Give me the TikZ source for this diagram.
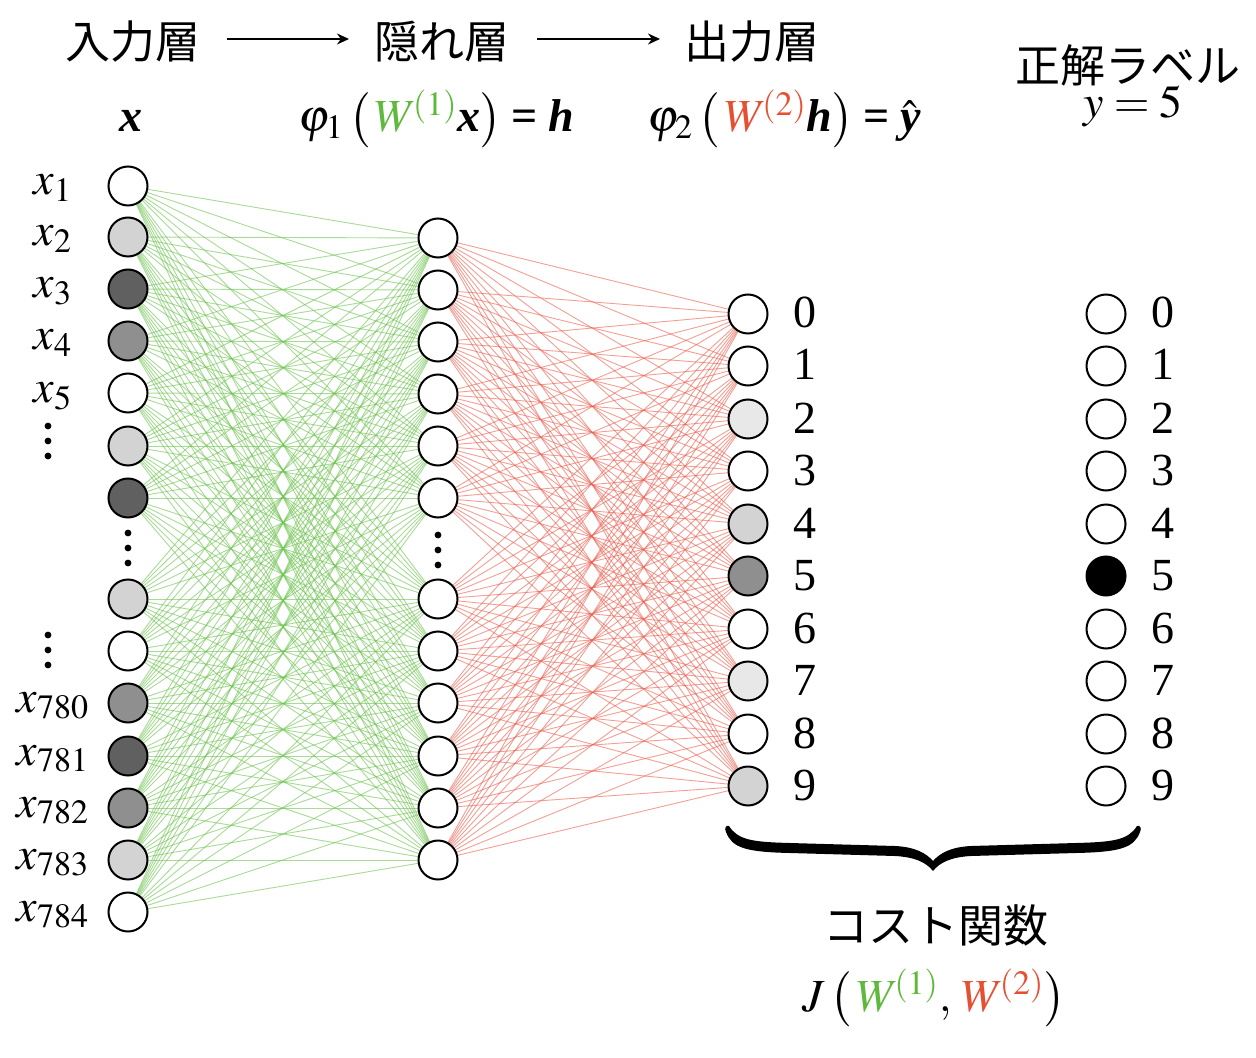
\documentclass[tikz,border=0pt]{standalone}
\usepackage{amsmath}
\usepackage{mathptmx}
\usepackage{fontspec}
\setmainfont{Liberation Serif}
\newfontfamily\jp{Noto Sans CJK JP}
\usetikzlibrary{arrows.meta}
\definecolor{wgreen}{RGB}{95,185,60}
\definecolor{wred}{RGB}{230,80,50}
\definecolor{egreen}{RGB}{110,195,80}
\definecolor{ered}{RGB}{235,95,80}
\definecolor{vl}{RGB}{232,232,232}
\definecolor{lg}{RGB}{211,211,211}
\definecolor{mg}{RGB}{143,143,143}
\definecolor{dg}{RGB}{96,96,96}
\newcommand{\bxv}{\mbox{\bfseries\itshape x}}
\newcommand{\bhv}{\mbox{\bfseries\itshape h}}
\newcommand{\byv}{\mbox{\bfseries\itshape y}}
\newcommand{\beq}{\mathrel{\mbox{\bfseries =}}}
\pgfdeclarelayer{bg}
\pgfsetlayers{bg,main}
\begin{document}
\begin{tikzpicture}[x=0.5pt,y=-0.5pt,
  neuron/.style={circle, draw, line width=1pt, minimum size=19.5pt, inner sep=0pt},
  gedge/.style={draw=egreen, line width=0.45pt, opacity=0.6},
  redge/.style={draw=ered, line width=0.45pt, opacity=0.6},
  lbl/.style={font=\fontsize{23}{27}\selectfont, inner sep=0pt},
  jlbl/.style={font=\fontsize{22.5}{27}\selectfont\jp, inner sep=0pt},
  dotn/.style={circle, fill=black, inner sep=0pt, minimum size=3.4pt},
  toparrow/.style={line width=0.85pt, -{Stealth[length=6pt, width=5.5pt]}}
]
\useasboundingbox (0,0) rectangle (1256,1058);

% input layer
\foreach \i/\y/\c in {1/186/white, 2/237/lg, 3/289/dg, 4/341/mg, 5/393/white, 6/446/lg, 7/498/dg, 8/599/lg, 9/651/white, 10/703/mg, 11/756/dg, 12/808/mg, 13/860/lg, 14/912/white}
  \node[neuron, fill=\c] (i\i) at (128,\y) {};
% hidden layer
\foreach \i/\y in {1/238, 2/290, 3/342, 4/394, 5/446, 6/498, 7/599, 8/651, 9/703, 10/756, 11/808, 12/860}
  \node[neuron, fill=white] (h\i) at (438,\y) {};
% output layer
\foreach \i/\y/\c in {0/314/white, 1/366/white, 2/419/vl, 3/471/white, 4/524/lg, 5/576/mg, 6/629/white, 7/681/vl, 8/734/white, 9/786/lg}{
  \node[neuron, fill=\c] (o\i) at (748,\y) {};
  \node[lbl, anchor=base] (od\i) at (805,\y+14) {\i};
}
% label layer
\foreach \i/\y/\c in {0/314/white, 1/366/white, 2/419/white, 3/471/white, 4/524/white, 5/576/black, 6/629/white, 7/681/white, 8/734/white, 9/786/white}{
  \node[neuron, fill=\c] (t\i) at (1106,\y) {};
  \node[lbl, anchor=base] (td\i) at (1163,\y+14) {\i};
}

% edges
\begin{pgfonlayer}{bg}
\fill[white] (0,0) rectangle (1256,1058);
\foreach \a in {1,...,14}
  \foreach \b in {1,...,12}
    \draw[gedge] (i\a) -- (h\b);
\foreach \a in {1,...,12}
  \foreach \b in {0,...,9}
    \draw[redge] (h\a) -- (o\b);
\end{pgfonlayer}

% vertical dots
\foreach \n/\x/\y in {ia/128/548, ha/438/550, la/48/441, lb/48/650}{
  \node[dotn] (\n1) at (\x,\y-15) {};
  \node[dotn] (\n2) at (\x,\y) {};
  \node[dotn] (\n3) at (\x,\y+15) {};
}

% input labels
\foreach \i/\y/\s in {1/186/1, 2/237/2, 3/289/3, 4/341/4, 5/393/5, 10/703/780, 11/756/781, 12/808/782, 13/860/783, 14/912/784}
  \node[lbl, anchor=base] (xl\i) at (53,\y+9) {$x_{\s}$};

% top row
\node[jlbl] (tin) at (133,42) {入力層};
\node[jlbl] (thid) at (442,42) {隠れ層};
\node[jlbl] (tout) at (752,42) {出力層};
\node[jlbl] (tlab) at (1128,65) {正解ラベル};
\coordinate (a1s) at (227,39);
\coordinate (a1e) at (349,39);
\coordinate (a2s) at (537,39);
\coordinate (a2e) at (660,39);
\draw[toparrow] (a1s) -- (a1e);
\draw[toparrow] (a2s) -- (a2e);

% formulas
\node[lbl, anchor=base] (fx) at (131,132) {$\bxv$};
\node[lbl, anchor=base] (fh) at (436,132) {$\varphi_1\,\bigl(\,\textcolor{wgreen}{W^{\!(1)}}\bxv\bigr) \beq \bhv$};
\node[lbl, anchor=base] (fy) at (784,132) {$\varphi_2\,\bigl(\,\textcolor{wred}{W^{\!(2)}}\bhv\bigr) \beq \hat{\byv}$};
\node[lbl, anchor=base] (fl) at (1133,118) {$y = 5$};

% brace
\fill[black] (729,826)
  .. controls (738,840) and (752,842) .. (790,843)
  -- (895,846)
  .. controls (915,847) and (926,853) .. (933,861)
  .. controls (940,853) and (951,847) .. (971,846)
  -- (1076,843)
  .. controls (1114,842) and (1128,840) .. (1137,826)
  .. controls (1140,825) and (1142,828) .. (1140,832)
  .. controls (1134,848) and (1120,852) .. (1076,853)
  -- (971,856)
  .. controls (952,857) and (940,862) .. (933,871)
  .. controls (926,862) and (914,857) .. (895,856)
  -- (790,853)
  .. controls (746,852) and (732,848) .. (726,832)
  .. controls (724,828) and (726,825) .. (729,826) -- cycle;

% cost function
\node[jlbl] (cost) at (936,925) {コスト関数};
\node[lbl, anchor=base] (jf) at (934,1011) {$J\,\bigl(\,\textcolor{wgreen}{W^{\!(1)}},\,\textcolor{wred}{W^{\!(2)}}\bigr)$};
\end{tikzpicture}
\end{document}
